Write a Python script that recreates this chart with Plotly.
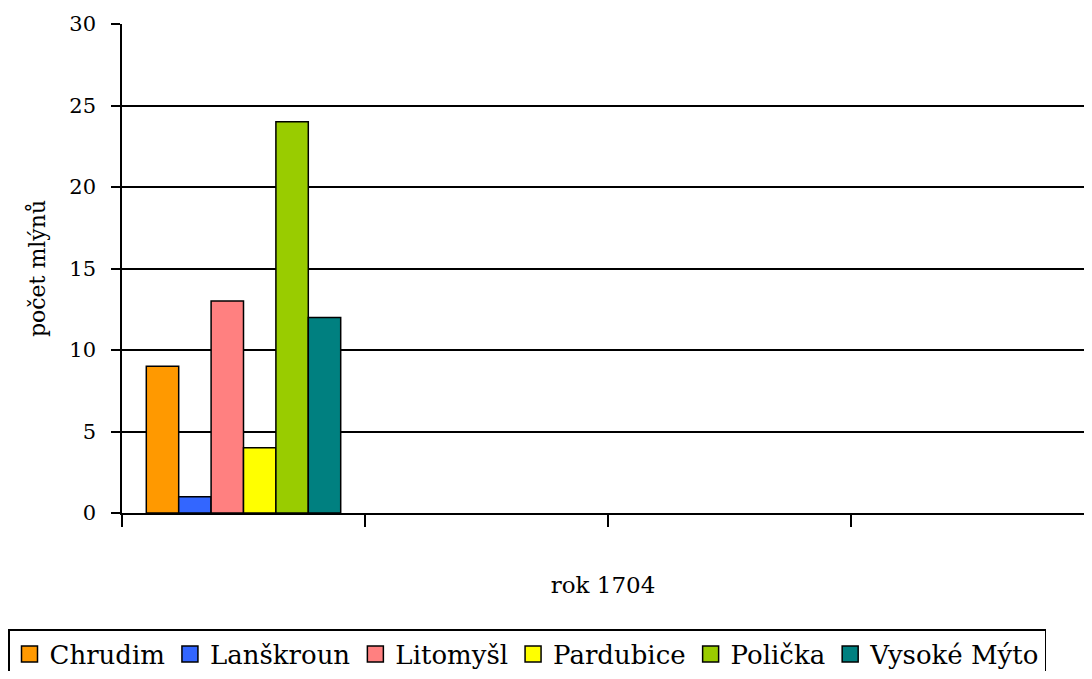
import plotly.graph_objects as go

# Data
years = ["1704"]
towns = ["Chrudim", "Lanškroun", "Litomyšl", "Pardubice", "Polička", "Vysoké Mýto"]
mills_1704 = [9, 1, 13, 4, 24, 12]
colors = ["#FF9900", "#3366FF", "#FF8080", "#FFFF00", "#99CC00", "#008080"]
n_slots = 4  # category slots on the x axis (only first has data)

FONT = "DejaVu Serif"

# the page body adds an 8px margin around the figure
W, H = 1076, 663
ML, MT, MB = 114, 16, 158
plot_w = W - ML
plot_h = H - MT - MB
slot_px = 243

fig = go.Figure()
xpos = list(range(len(years)))
for town, val, col in zip(towns, mills_1704, colors):
    fig.add_trace(go.Bar(
        x=xpos, y=[val], name=town,
        marker=dict(color=col, line=dict(color="black", width=1.5)),
        showlegend=False, legendgroup=town,
    ))
for town, col in zip(towns, colors):
    fig.add_trace(go.Scatter(
        x=[None], y=[None], name=town, mode="markers", legendgroup=town,
        marker=dict(symbol="square", size=16, color=col, line=dict(color="black", width=1.5)),
    ))

fig.update_layout(
    width=W, height=H,
    margin=dict(l=ML, r=0, t=MT, b=MB, autoexpand=False),
    paper_bgcolor="white", plot_bgcolor="white",
    barmode="group", bargap=0.2, bargroupgap=0,
    font=dict(family=FONT, color="black"),
    showlegend=True,
    legend=dict(
        orientation="h", x=-ML / plot_w, xanchor="left",
        y=-116 / plot_h, yanchor="top",
        bordercolor="black", borderwidth=1.5, bgcolor="white",
        font=dict(family=FONT, size=26, color="black"),
        traceorder="normal",
    ),
)
fig.update_yaxes(
    range=[0, 30], dtick=5, showline=True, linecolor="black", linewidth=1.5,
    ticks="outside", ticklen=9, tickcolor="black", tickwidth=1.5,
    showgrid=True, gridcolor="black", gridwidth=1.5, zeroline=False,
    tickfont=dict(family=FONT, size=21, color="black"), ticklabelstandoff=11,
    title=dict(text="počet mlýnů", font=dict(family=FONT, size=22, color="black"), standoff=18),
    automargin=False,
)
fig.update_xaxes(
    range=[-0.5, -0.5 + plot_w / slot_px], showline=True, linecolor="black", linewidth=1.5,
    ticks="outside", ticklen=12, tickcolor="black", tickwidth=1.5,
    tickvals=[i - 0.5 for i in range(n_slots)], showticklabels=False,
    showgrid=False, zeroline=False,
    title=dict(text="rok " + years[0], font=dict(family=FONT, size=23, color="black"), standoff=51),
    automargin=False,
)

fig.write_html("out.html")
